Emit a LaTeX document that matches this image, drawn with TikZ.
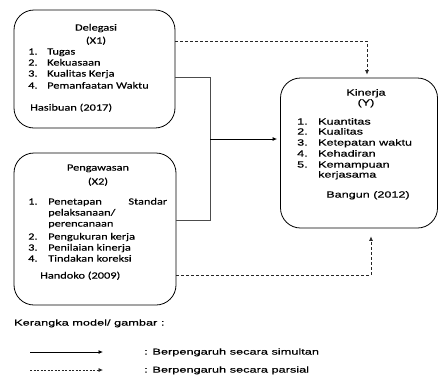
\documentclass[tikz,border=0pt]{standalone}
\usepackage{fontspec}
\newfontfamily\calw[FakeStretch=1.3,FakeBold=0.2]{Carlito}
\newfontfamily\arialw[FakeStretch=1.4,FakeBold=0.4]{Liberation Sans}
\newfontfamily\arialv[FakeStretch=1.5,FakeBold=0.3]{Liberation Sans}
\usetikzlibrary{arrows.meta}
\begin{document}
\begin{tikzpicture}[x=1pt,y=-1pt,
  box/.style={draw=black, line width=0.8pt, rounded corners=20pt, inner sep=0pt},
  cal/.style={inner sep=0pt, font=\calw\fontsize{9.5}{11}\selectfont, text height=1.5ex, text depth=.3ex},
  ari/.style={inner sep=0pt, font=\arialw\fontsize{9}{11}\selectfont, text height=1.5ex, text depth=.3ex},
  leg/.style={inner sep=0pt, font=\arialv\fontsize{8.5}{10}\selectfont, text height=1.5ex, text depth=.3ex},
  link/.style={draw=black!70, line width=0.8pt},
  dlink/.style={draw=black!85, line width=0.7pt, dash pattern=on 3pt off 2pt},
  tip/.style={-{Latex[length=4.5pt,width=4pt]}}]
\useasboundingbox (0,0) rectangle (439,381);
% boxes
\node[box, minimum width=161pt, minimum height=118pt] (d) at (94.5,69) {};
\node[box, minimum width=162pt, minimum height=152pt] (p) at (95,229) {};
\node[box, minimum width=157pt, minimum height=150pt] (k) at (359,153) {};
% Delegasi text
\node[cal] (d0) at (96,28) {Delegasi};
\node[cal] (d1) at (96,41) {(X1)};
\node[cal, anchor=west] (dn1) at (28,52) {1.};
\node[cal, anchor=west] (dt1) at (47,52) {Tugas};
\node[cal, anchor=west] (dn2) at (28,63) {2.};
\node[cal, anchor=west] (dt2) at (47,63) {Kekuasaan};
\node[cal, anchor=west] (dn3) at (28,74) {3.};
\node[cal, anchor=west] (dt3) at (47,74) {Kualitas Kerja};
\node[cal, anchor=west] (dn4) at (28,86) {4.};
\node[cal, anchor=west] (dt4) at (47,86) {Pemanfaatan Waktu};
\node[cal, anchor=west] (dref) at (30,108) {Hasibuan (2017)};
% Pengawasan text
\node[cal] (p0) at (98,168) {Pengawasan};
\node[cal] (p1) at (98,182) {(X2)};
\node[cal, anchor=west] (pn1) at (28,202) {1.};
\node[cal, anchor=west] (pt1) at (48,202) {\makebox[119pt][s]{Penetapan\hfill Standar}};
\node[cal, anchor=west] (pt1b) at (48,213) {pelaksanaan/};
\node[cal, anchor=west] (pt1c) at (48,224) {perencanaan};
\node[cal, anchor=west] (pn2) at (28,237) {2.};
\node[cal, anchor=west] (pt2) at (48,237) {Pengukuran kerja};
\node[cal, anchor=west] (pn3) at (28,248) {3.};
\node[cal, anchor=west] (pt3) at (48,248) {Penilaian kinerja};
\node[cal, anchor=west] (pn4) at (28,259) {4.};
\node[cal, anchor=west] (pt4) at (48,259) {Tindakan koreksi};
\node[cal, anchor=west] (pref) at (40,276) {Handoko (2009)};
% Kinerja text
\node[ari] (k0) at (366,93) {Kinerja};
\node[ari] (k1) at (366,103) {(Y)};
\node[ari, anchor=west] (kn1) at (297,122) {1.};
\node[ari, anchor=west] (kt1) at (318,122) {Kuantitas};
\node[ari, anchor=west] (kn2) at (297,132) {2.};
\node[ari, anchor=west] (kt2) at (318,132) {Kualitas};
\node[ari, anchor=west] (kn3) at (297,143) {3.};
\node[ari, anchor=west] (kt3) at (318,143) {Ketepatan waktu};
\node[ari, anchor=west] (kn4) at (297,154) {4.};
\node[ari, anchor=west] (kt4) at (318,154) {Kehadiran};
\node[ari, anchor=west] (kn5) at (297,165) {5.};
\node[ari, anchor=west] (kt5) at (318,165) {Kemampuan};
\node[ari, anchor=west] (kt5b) at (318,175) {kerjasama};
\node[ari] (kref) at (368,195) {Bangun (2012)};
% connectors
\coordinate (ya) at (0,77);
\coordinate (yb) at (0,220);
\coordinate (yc) at (0,139);
\coordinate (jx) at (210,0);
\coordinate (yd) at (0,41);
\coordinate (dx) at (367,0);
\coordinate (ye) at (0,275);
\coordinate (ex) at (371,0);
\draw[link] (d.east |- ya) -| (jx |- yb) -- (p.east |- yb);
\draw[link, draw=black, tip, shorten >=3pt] (jx |- yc) -- (k.west |- yc);
\draw[dlink, tip, shorten >=3pt] (d.east |- yd) -| (dx |- k.north);
\draw[dlink, tip, shorten >=8pt] (p.east |- ye) -| (ex |- k.south);
% legend
\node[leg, anchor=west] (lg) at (14,323) {Kerangka model/ gambar :};
\coordinate (l1a) at (30,352);
\coordinate (l2a) at (30,370);
\node[leg, anchor=west] (lt1) at (144,352) {: Berpengaruh secara simultan};
\node[leg, anchor=west] (lt2) at (144,370) {: Berpengaruh secara parsial};
\draw[link, draw=black, tip] (l1a) -- ++(73,0);
\draw[dlink, tip, dash pattern=on 2pt off 1.5pt] (l2a) -- ++(73,0);
\end{tikzpicture}
\end{document}
